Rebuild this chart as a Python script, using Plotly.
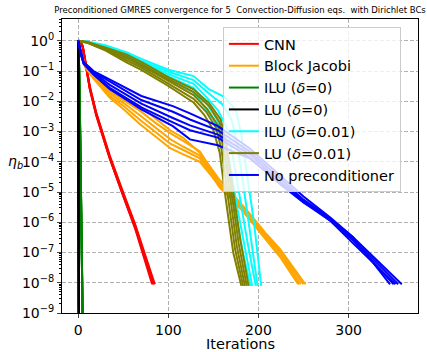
import plotly.graph_objects as go

# ---------------- data (residual eta_b per GMRES iteration, 5 equations per method) ----------------
cnn_iters = [
    [0, 3, 5, 7, 10, 13, 20, 35, 50, 63, 82],
    [0, 3, 5, 7, 10, 13, 20, 35, 50, 63, 83],
    [0, 3, 5, 7, 10, 13, 20, 35, 50, 63, 84],
    [0, 3, 5, 7, 10, 13, 20, 35, 50, 63, 84],
    [0, 3, 5, 7, 10, 13, 20, 35, 50, 63, 85],
]
cnn_res = [
    [1.0, 0.83, 0.63, 0.28, 7.9e-2, 2.5e-2, 3.5e-3, 1.3e-4, 7.1e-6, 6.3e-7, 8.9e-9],
    [1.0, 0.85, 0.66, 0.32, 8.9e-2, 2.8e-2, 4.0e-3, 1.4e-4, 7.9e-6, 7.1e-7, 8.9e-9],
    [1.0, 0.83, 0.63, 0.30, 8.3e-2, 2.6e-2, 3.8e-3, 1.4e-4, 8.3e-6, 7.9e-7, 8.9e-9],
    [1.0, 0.79, 0.60, 0.26, 7.6e-2, 2.4e-2, 3.3e-3, 1.3e-4, 7.6e-6, 7.1e-7, 8.9e-9],
    [1.0, 0.87, 0.68, 0.32, 9.5e-2, 3.0e-2, 4.2e-3, 1.6e-4, 9.5e-6, 8.9e-7, 8.9e-9],
]

bj_iters = [
    [0, 2, 4, 8, 17, 35, 50, 68, 85, 102, 116, 135, 157, 172, 187, 209, 224, 252],
    [0, 2, 4, 8, 17, 35, 50, 68, 85, 102, 116, 135, 157, 172, 187, 209, 224, 250],
    [0, 2, 4, 8, 17, 35, 50, 68, 85, 102, 116, 135, 157, 172, 187, 209, 224, 247],
    [0, 2, 4, 8, 17, 35, 50, 68, 85, 102, 116, 135, 157, 172, 187, 209, 224, 245],
    [0, 2, 4, 8, 17, 35, 50, 68, 85, 102, 116, 135, 157, 172, 187, 209, 224, 244],
]
bj_res = [
    [1.0, 0.50, 0.32, 0.16, 7.1e-2, 2.5e-2, 1.4e-2, 7.1e-3, 2.8e-3, 1.1e-3, 6.3e-4, 2.0e-4, 2.5e-5, 7.9e-6, 2.5e-6, 4.0e-7, 1.3e-7, 8.9e-9],
    [1.0, 0.50, 0.32, 0.15, 6.6e-2, 2.1e-2, 1.1e-2, 5.0e-3, 2.0e-3, 8.9e-4, 5.0e-4, 2.2e-4, 2.0e-5, 6.3e-6, 2.2e-6, 3.5e-7, 1.1e-7, 8.9e-9],
    [1.0, 0.48, 0.30, 0.14, 6.3e-2, 1.8e-2, 8.9e-3, 3.5e-3, 1.4e-3, 5.6e-4, 3.2e-4, 1.6e-4, 1.8e-5, 6.3e-6, 2.0e-6, 3.2e-7, 1.0e-7, 8.9e-9],
    [1.0, 0.47, 0.28, 0.13, 6.0e-2, 1.5e-2, 7.1e-3, 2.5e-3, 1.0e-3, 4.0e-4, 2.5e-4, 1.3e-4, 1.4e-5, 5.0e-6, 1.8e-6, 2.8e-7, 7.9e-8, 8.9e-9],
    [1.0, 0.45, 0.27, 0.13, 5.6e-2, 1.3e-2, 5.6e-3, 1.8e-3, 7.1e-4, 2.8e-4, 1.8e-4, 1.0e-4, 1.6e-5, 5.6e-6, 1.6e-6, 2.5e-7, 7.1e-8, 8.9e-9],
]

ilu0_iters = [
    [0, 1, 2, 3, 4, 5, 6],
    [0, 1, 2, 3, 4, 5, 6],
    [0, 1, 2, 3, 4, 5, 6],
    [0, 1, 2, 3, 4, 5, 6],
    [0, 1, 2, 3, 4, 5, 6],
]
ilu0_res = [
    [1.0, 0.13, 2.0e-3, 3.2e-5, 3.2e-7, 5.0e-10, 1.0e-12],
    [1.0, 0.16, 2.5e-3, 4.0e-5, 4.0e-7, 6.3e-10, 1.0e-12],
    [1.0, 0.11, 1.6e-3, 2.5e-5, 2.5e-7, 4.0e-10, 1.0e-12],
    [1.0, 0.13, 2.2e-3, 3.5e-5, 3.5e-7, 5.6e-10, 1.0e-12],
    [1.0, 0.14, 1.8e-3, 2.8e-5, 2.8e-7, 4.5e-10, 1.0e-12],
]

lu0_iters = [[0, 1], [0, 1], [0, 1], [0, 1], [0, 1]]
lu0_res = [
    [1.0, 1.0e-16],
    [1.0, 2.0e-16],
    [1.0, 1.0e-15],
    [1.0, 5.0e-16],
    [1.0, 3.0e-16],
]

ilu1_iters = [
    [0, 10, 30, 54, 70, 100, 128, 145, 162, 175, 181, 188, 195, 203],
    [0, 10, 30, 54, 70, 100, 128, 145, 160, 170, 177, 184, 191, 199],
    [0, 10, 30, 54, 70, 100, 128, 143, 155, 165, 172, 180, 188, 197],
    [0, 10, 30, 54, 70, 100, 128, 143, 153, 162, 169, 177, 185, 193],
    [0, 10, 30, 54, 70, 100, 128, 140, 150, 158, 166, 174, 182, 191],
]
ilu1_res = [
    [1.0, 0.95, 0.71, 0.41, 0.25, 0.11, 6.8e-2, 2.5e-2, 1.4e-2, 5.0e-3, 7.9e-4, 3.2e-5, 1.0e-6, 7.9e-9],
    [1.0, 0.93, 0.66, 0.37, 0.21, 9.5e-2, 5.0e-2, 1.8e-2, 7.9e-3, 2.5e-3, 3.2e-4, 1.3e-5, 4.0e-7, 7.9e-9],
    [1.0, 0.93, 0.63, 0.34, 0.19, 7.9e-2, 3.8e-2, 1.3e-2, 5.0e-3, 1.3e-3, 1.3e-4, 5.0e-6, 2.0e-7, 7.9e-9],
    [1.0, 0.91, 0.60, 0.32, 0.17, 6.6e-2, 2.8e-2, 7.9e-3, 2.8e-3, 6.3e-4, 6.3e-5, 2.5e-6, 1.3e-7, 7.9e-9],
    [1.0, 0.89, 0.56, 0.28, 0.14, 5.6e-2, 2.0e-2, 6.3e-3, 2.5e-3, 7.9e-4, 6.3e-5, 2.5e-6, 1.3e-7, 7.9e-9],
]

lu1_iters = [
    [0, 10, 30, 54, 70, 100, 128, 145, 158, 164, 172, 180, 189],
    [0, 10, 30, 54, 70, 100, 128, 145, 157, 163, 170, 178, 187],
    [0, 10, 30, 54, 70, 100, 128, 143, 155, 161, 168, 176, 185],
    [0, 10, 30, 54, 70, 100, 128, 142, 153, 159, 166, 174, 183],
    [0, 10, 30, 54, 70, 100, 128, 140, 150, 157, 164, 172, 181],
]
lu1_res = [
    [1.0, 0.91, 0.60, 0.35, 0.20, 6.3e-2, 2.5e-2, 8.9e-3, 2.5e-3, 5.0e-4, 1.0e-5, 2.5e-7, 7.9e-9],
    [1.0, 0.89, 0.56, 0.30, 0.17, 5.4e-2, 2.0e-2, 7.1e-3, 2.0e-3, 4.0e-4, 1.0e-5, 2.0e-7, 7.9e-9],
    [1.0, 0.89, 0.54, 0.26, 0.15, 4.7e-2, 1.6e-2, 5.6e-3, 1.6e-3, 3.2e-4, 7.9e-6, 1.6e-7, 7.9e-9],
    [1.0, 0.87, 0.50, 0.22, 0.13, 3.8e-2, 1.2e-2, 4.5e-3, 1.3e-3, 2.5e-4, 6.3e-6, 1.3e-7, 7.9e-9],
    [1.0, 0.85, 0.48, 0.19, 0.11, 3.2e-2, 9.1e-3, 3.5e-3, 1.1e-3, 2.0e-4, 5.0e-6, 1.0e-7, 7.9e-9],
]

noprec_iters = [
    [0, 3, 6, 17, 35, 70, 105, 124, 155, 190, 224, 250, 280, 305, 359],
    [0, 3, 6, 17, 35, 70, 105, 124, 155, 190, 224, 250, 280, 305, 355],
    [0, 3, 6, 17, 35, 70, 105, 124, 155, 190, 224, 250, 280, 305, 350],
    [0, 3, 6, 17, 35, 70, 105, 124, 155, 190, 224, 250, 280, 305, 346],
    [0, 3, 6, 17, 35, 70, 105, 124, 155, 190, 224, 250, 280, 305, 352],
]
noprec_res = [
    [1.0, 0.40, 0.20, 0.10, 5.2e-2, 1.5e-2, 6.9e-3, 4.0e-3, 1.5e-3, 2.8e-4, 3.5e-5, 7.1e-6, 1.4e-6, 3.2e-7, 8.9e-9],
    [1.0, 0.38, 0.19, 9.3e-2, 4.5e-2, 1.1e-2, 4.5e-3, 2.5e-3, 1.1e-3, 2.2e-4, 2.8e-5, 5.6e-6, 1.3e-6, 2.8e-7, 8.9e-9],
    [1.0, 0.37, 0.19, 8.7e-2, 3.5e-2, 8.3e-3, 2.8e-3, 1.6e-3, 7.9e-4, 1.8e-4, 2.2e-5, 5.0e-6, 1.1e-6, 2.5e-7, 8.9e-9],
    [1.0, 0.35, 0.18, 7.9e-2, 2.8e-2, 6.3e-3, 2.0e-3, 1.1e-3, 6.3e-4, 1.4e-4, 1.8e-5, 4.5e-6, 1.3e-6, 3.2e-7, 8.9e-9],
    [1.0, 0.35, 0.17, 7.6e-2, 2.5e-2, 5.4e-3, 1.5e-3, 5.5e-4, 3.5e-4, 1.3e-4, 2.0e-5, 4.5e-6, 1.1e-6, 2.0e-7, 8.9e-9],
]

method_names = ["CNN", "Block Jacobi", "ILU (<i>δ</i>=0)", "LU (<i>δ</i>=0)",
                "ILU (<i>δ</i>=0.01)", "LU (<i>δ</i>=0.01)", "No preconditioner"]
method_colors = ["#ff0000", "#ffa500", "#008000", "#000000", "#00ffff", "#808000", "#0000ff"]
method_iters = [cnn_iters, bj_iters, ilu0_iters, lu0_iters, ilu1_iters, lu1_iters, noprec_iters]
method_res = [cnn_res, bj_res, ilu0_res, lu0_res, ilu1_res, lu1_res, noprec_res]

ytick_vals = [1e-9, 1e-8, 1e-7, 1e-6, 1e-5, 1e-4, 1e-3, 1e-2, 1e-1, 1e0]
ytick_text = ["10<sup>−9</sup>", "10<sup>−8</sup>", "10<sup>−7</sup>", "10<sup>−6</sup>",
              "10<sup>−5</sup>", "10<sup>−4</sup>", "10<sup>−3</sup>", "10<sup>−2</sup>",
              "10<sup>−1</sup>", "10<sup>0</sup>"]
xtick_vals = [0, 100, 200, 300]

# ---------------- figure ----------------
FONT = "DejaVu Sans, Arial, sans-serif"
fig = go.Figure()
for name, color, its, res in zip(method_names, method_colors, method_iters, method_res):
    for k, (x, y) in enumerate(zip(its, res)):
        fig.add_trace(go.Scatter(
            x=x, y=y, mode="lines", name=name, legendgroup=name,
            showlegend=(k == 0), line=dict(color=color, width=2),
        ))

minor_vals = [m * 10.0 ** e for e in range(-9, 1) for m in range(2, 10)]

fig.update_layout(
    width=427, height=352,
    margin=dict(l=62, r=9, t=19, b=39),
    paper_bgcolor="white", plot_bgcolor="white",
    font=dict(family=FONT, color="black", size=14),
    title=dict(
        text="Preconditioned GMRES convergence for 5 \u00a0Convection-Diffusion eqs. \u00a0with Dirichlet BCs",
        font=dict(size=8.5, family=FONT), x=0.5, xref="paper", xanchor="center",
        y=1 - 10 / 352, yref="container", yanchor="middle",
    ),
    legend=dict(
        x=0.452, y=0.973, xanchor="left", yanchor="top",
        bgcolor="rgba(255,255,255,0.8)", bordercolor="#cccccc", borderwidth=1,
        font=dict(size=14.5, family=FONT), tracegroupgap=0,
    ),
    showlegend=True,
)
fig.update_xaxes(
    range=[-18, 377], tickvals=xtick_vals, ticks="outside", ticklen=4,
    showline=True, mirror=True, linecolor="black", linewidth=1,
    showgrid=True, gridcolor="#b0b0b0", griddash="4px,2px", gridwidth=1,
    zeroline=False, tickfont=dict(size=14), automargin=False,
)
fig.update_yaxes(
    type="log", range=[-9, 0.72], tickvals=ytick_vals, ticktext=ytick_text,
    ticks="outside", ticklen=4, automargin=False,
    showline=True, mirror=True, linecolor="black", linewidth=1,
    showgrid=True, gridcolor="#b0b0b0", griddash="4px,2px", gridwidth=1,
    zeroline=False, tickfont=dict(size=14),
    minor=dict(tickmode="array", tickvals=minor_vals, ticks="outside", ticklen=2,
               tickcolor="black", showgrid=False),
)
fig.add_annotation(
    text="Iterations", x=0.5, y=(313 - 344) / 294, xref="paper", yref="paper",
    showarrow=False, font=dict(size=14.5, family=FONT), xanchor="center", yanchor="middle",
)
fig.add_annotation(
    text="<i>η</i><sub><i>b</i></sub>", x=-0.132, y=0.514, xref="paper", yref="paper",
    showarrow=False, font=dict(size=14, family=FONT), xanchor="center", yanchor="middle",
)

fig.write_html("out.html", config={"displayModeBar": False},
               post_script="document.body.style.margin='0';")
